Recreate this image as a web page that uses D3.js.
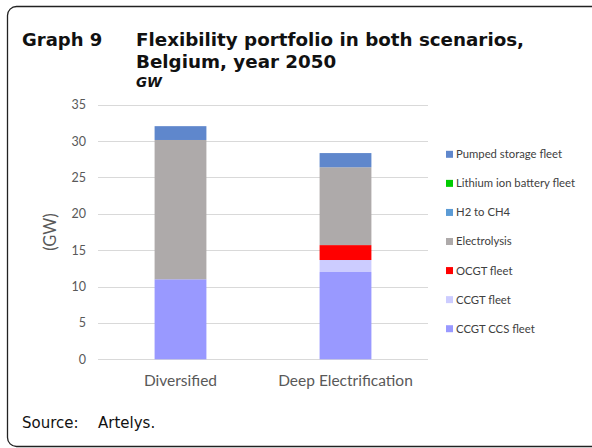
<!DOCTYPE html>
<html>
<head>
<meta charset="utf-8">
<script src="https://cdn.jsdelivr.net/npm/d3@7"></script>
<style>
  body { margin: 0; background: #fff; }
  svg { display: block; }
</style>
</head>
<body>
<div id="chart"></div>
<script>
"use strict";

// data (GW)
const scenarios = ["Diversified", "Deep Electrification"];
const seriesNames = ["CCGT CCS fleet", "CCGT fleet", "OCGT fleet", "Electrolysis",
                     "H2 to CH4", "Lithium ion battery fleet", "Pumped storage fleet"];
const ccgtCcs   = [11.0, 12.0];
const ccgt      = [0, 1.65];
const ocgt      = [0, 2.05];
const electro   = [19.15, 10.7];
const h2ToCh4   = [0, 0];
const lithium   = [0, 0];
const pumped    = [1.9, 1.95];
const yTicks = [0, 5, 10, 15, 20, 25, 30, 35];

const seriesValues = [ccgtCcs, ccgt, ocgt, electro, h2ToCh4, lithium, pumped];
const colors = ["#9999ff", "#ccccff", "#ff0000", "#aeaaaa", "#5b9bd5", "#00cc00", "#5f87cc"];

const W = 592, H = 448;
const svg = d3.select("#chart").append("svg")
    .attr("width", W).attr("height", H);

// frame (rounded, cut by the page edge)
svg.append("rect")
    .attr("x", 7.5).attr("y", 6.5)
    .attr("width", 620).attr("height", 440)
    .attr("rx", 9)
    .style("fill", "none")
    .style("stroke", "#222")
    .style("stroke-width", 1.3);

// title
const tfont = "'DejaVu Sans', sans-serif";
svg.append("text").attr("x", 22).attr("y", 46)
    .style("font-family", tfont).style("font-weight", "bold").style("font-size", "18px")
    .style("fill", "#111").text("Graph 9");
svg.append("text").attr("x", 136).attr("y", 46)
    .style("font-family", tfont).style("font-weight", "bold").style("font-size", "18.3px")
    .style("fill", "#111").text("Flexibility portfolio in both scenarios,");
svg.append("text").attr("x", 136).attr("y", 68)
    .style("font-family", tfont).style("font-weight", "bold").style("font-size", "18.3px")
    .style("fill", "#111").text("Belgium, year 2050");
svg.append("text").attr("x", 136).attr("y", 87)
    .style("font-family", tfont).style("font-weight", "bold").style("font-style", "italic")
    .style("font-size", "13.5px").style("fill", "#111").text("GW");

// scales
const x = d3.scaleBand().domain(scenarios).range([98, 428]).paddingInner(0.686).paddingOuter(0.343);
const y = d3.scaleLinear().domain([0, 35]).range([359.3, 104.7]);

const cfont = "Lato, 'Open Sans', sans-serif";

// grid
svg.append("g").selectAll("line").data(yTicks).join("line")
    .attr("x1", 98).attr("x2", 428)
    .attr("y1", d => Math.round(y(d)) + 0.5).attr("y2", d => Math.round(y(d)) + 0.5)
    .style("stroke", "#d9d9d9").style("stroke-width", 1);

// y axis labels
const yAxis = d3.axisLeft(y).tickValues(yTicks).tickSize(0).tickPadding(0);
const yg = svg.append("g").attr("transform", "translate(86,0)").call(yAxis);
yg.select(".domain").remove();
yg.selectAll("text")
    .style("font-family", cfont).style("font-size", "12.5px").style("fill", "#595959");

svg.append("text")
    .attr("transform", "translate(56," + y(17.5) + ") rotate(-90)")
    .attr("text-anchor", "middle")
    .style("font-family", cfont).style("font-size", "16.5px").style("fill", "#595959")
    .text("(GW)");

// stacked bars
const rows = scenarios.map((s, i) => {
    const r = { scenario: s };
    seriesNames.forEach((n, k) => r[n] = seriesValues[k][i]);
    return r;
});
const stacked = d3.stack().keys(seriesNames)(rows);

svg.append("g").selectAll("g").data(stacked).join("g")
    .style("fill", (d, i) => colors[i])
  .selectAll("rect").data(d => d).join("rect")
    .attr("x", d => x(d.data.scenario))
    .attr("width", x.bandwidth())
    .attr("y", d => y(d[1]))
    .attr("height", d => y(d[0]) - y(d[1]));

// x axis labels
const xAxis = d3.axisBottom(x).tickSize(0).tickPadding(0);
const xg = svg.append("g").attr("transform", "translate(0,375)").call(xAxis);
xg.select(".domain").remove();
xg.selectAll("text")
    .style("font-family", cfont).style("font-size", "15.5px").style("fill", "#595959");

// legend, top entry first
const legendItems = seriesNames.map((n, i) => ({ name: n, color: colors[i] })).reverse();
const leg = svg.append("g").selectAll("g").data(legendItems).join("g")
    .attr("transform", (d, i) => "translate(446," + (154.3 + i * 29.07) + ")");
leg.append("rect")
    .attr("x", 0).attr("y", -3.5).attr("width", 7).attr("height", 7)
    .style("fill", d => d.color);
leg.append("text")
    .attr("x", 10).attr("y", 0).attr("dy", "0.35em")
    .style("font-family", cfont).style("font-size", "11.3px").style("fill", "#404040")
    .text(d => d.name);

// source
svg.append("text").attr("x", 22).attr("y", 428)
    .style("font-family", tfont).style("font-size", "15px").style("fill", "#111")
    .text("Source:");
svg.append("text").attr("x", 98).attr("y", 428)
    .style("font-family", tfont).style("font-size", "15px").style("fill", "#111")
    .text("Artelys.");
</script>
</body>
</html>
